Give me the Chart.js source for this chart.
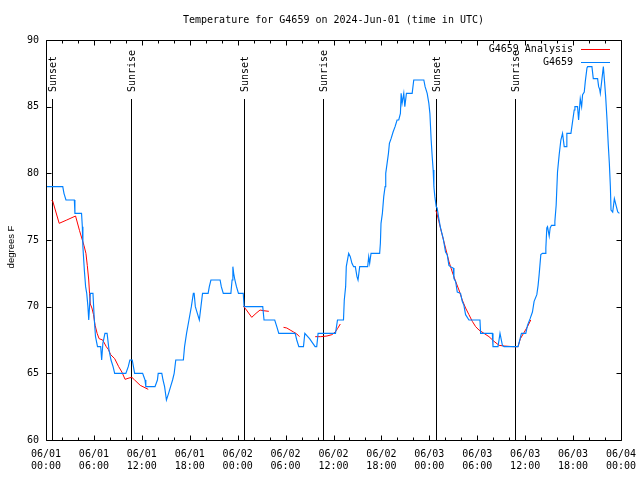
<!DOCTYPE html>
<html>
<head>
<meta charset="utf-8">
<script src="https://cdn.jsdelivr.net/npm/chart.js@4.4.1/dist/chart.umd.min.js"></script>
<style>
  html, body { margin: 0; padding: 0; background: #fff; }
  #c { display: block; }
</style>
</head>
<body>
<canvas id="c" width="640" height="480"></canvas>
<script>
// ---- data (hours since 2024-06-01 00:00 UTC) ----
const titleText = 'Temperature for G4659 on 2024-Jun-01 (time in UTC)';
const yTitle = 'degrees F';
const seriesNames = ['G4659 Analysis', 'G4659'];

const tickLabels = [
  ['06/01','00:00'],['06/01','06:00'],['06/01','12:00'],['06/01','18:00'],
  ['06/02','00:00'],['06/02','06:00'],['06/02','12:00'],['06/02','18:00'],
  ['06/03','00:00'],['06/03','06:00'],['06/03','12:00'],['06/03','18:00'],
  ['06/04','00:00']
];

const sunsetHours = [0.79, 24.83, 48.84];
const sunriseHours = [10.68, 34.72, 58.77];

const blueHours = [
  0,2.1,2.25,2.5,3.55,3.62,4.45,4.55,4.62,4.8,4.96,5.1,5.25,5.35,5.45,5.55,5.88,6.05,6.2,6.45,
  6.85,6.97,7.12,7.38,7.65,7.89,8.14,8.4,8.6,10.0,10.3,10.5,10.8,11.1,12.1,12.4,12.5,13.65,13.95,14.05,
  14.5,14.65,14.85,15.08,15.35,15.6,15.85,16.05,16.25,17.2,17.35,17.6,17.9,18.2,18.45,18.55,18.7,18.95,19.2,19.4,
  19.6,20.3,20.45,20.65,21.8,21.95,22.2,23.15,23.3,23.4,23.5,23.65,23.85,24.1,24.7,24.8,
  27.14,27.3,28.64,28.9,29.15,31.2,31.4,31.66,32.24,32.41,33.0,33.7,33.9,34.07,36.25,36.5,37.25,
  37.35,37.52,37.6,37.9,38.1,38.31,38.52,38.73,38.94,39.07,39.28,40.28,40.41,40.53,40.7,41.78,41.87,41.95,42.12,42.29,
  42.46,42.54,42.71,42.88,43.0,43.21,43.46,43.71,43.96,44.17,44.38,44.47,44.59,44.8,44.93,45.13,45.85,46.05,47.31,47.47,
  47.73,47.94,48.07,48.23,48.36,48.48,48.57,48.69,48.86,
  48.98,49.19,49.4,49.74,50.03,50.24,50.45,50.66,50.99,51.08,51.29,51.5,51.91,52.12,52.33,52.54,52.96,54.34,54.42,55.89,
  55.97,56.6,56.85,57.15,57.36,59.11,59.37,59.53,60.08,60.29,60.62,60.91,61.12,61.46,61.62,61.75,61.96,62.17,62.5,62.59,
  62.71,62.8,63.01,63.13,63.3,63.63,63.72,63.88,64.05,64.26,64.47,64.68,64.89,65.14,65.22,65.73,65.94,66.14,66.23,66.56,
  66.69,66.9,67.07,67.19,67.4,67.53,67.74,67.82,68.36,68.53,69.07,69.2,69.33,69.41,69.58,69.79,69.91,70.08,70.25,70.41,
  70.54,70.67,70.75,70.96,71.17,71.38,71.59,71.8
];
const blueTemps = [
  79,79,78.5,78,78,77,77,76,74.5,72.75,71.5,71,70,69,70,71,71,69,67.75,67,
  67,66,67.25,68,68,66.75,66,65.5,65,65,65.5,66,66,65,65,64.5,64,64,64.5,65,
  65,64.5,64,63,63.5,64,64.5,65,66,66,67,68,69,70,71,71,70,69.5,69,70,
  71,71,71.5,72,72,71.5,71,71,72,73,72.5,72,71.5,71,71,70,
  70,69,69,68.5,68,68,67.5,67,67,68,67.6,67,67,68,68,69,69,
  70.5,71.5,73,74,73.75,73.25,73,73,72.25,72,73,73,73.75,73.25,74,74,74.75,76.25,77,78.25,
  79,80,80.75,81.5,82.25,82.6,83.1,83.5,84,84,84.5,86,85.25,86,85,86,86,87,87,86.5,
  86,85.25,84.5,82.5,81.25,80.25,79,78.25,77.5,
  77.4,76.6,75.9,75.1,74.1,73.9,73.1,73,72.9,72.1,71.9,71.1,71,70.4,70.1,69.4,69,69,68,68,
  67,67,68,67.1,67,67,67.6,68,68,68.6,69.1,69.6,70.4,70.9,71.6,72.4,73.9,74,74,74.4,
  75.9,76,75.3,75.9,76.1,76.1,76.4,77.6,80.1,81.4,82.5,83,82,82,83,83,83.9,84.75,85,85,
  84,85.6,85,85.9,86.1,86.9,87.9,88,88,87.1,87.1,86.5,86.3,86,86.9,88,87.1,85.75,84,82.1,
  80.75,79,77.25,77.1,78.1,77.6,77.1,77
];

// null marks a break in the analysis line
const redHours = [
  0.7,0.85,1.65,2.6,3.7,4.2,4.75,5.0,5.17,5.35,5.45,5.55,5.75,5.95,6.15,6.4,6.65,7.1,7.55,7.8,
  8.1,8.6,9.1,9.5,9.9,10.4,10.75,11.1,11.8,12.8,
  18.0,
  24.7,25.1,25.76,26.3,26.8,27.2,27.9,
  28.8,
  29.74,30.15,30.57,31.0,31.41,31.74,
  32.7,
  33.71,34.4,35.18,35.8,36.22,36.5,36.85,
  42.0,
  48.78,48.9,49.19,49.6,50.03,50.45,50.87,51.29,51.71,52.12,52.54,52.96,53.38,53.8,54.21,54.84,55.47,56.1,56.73,57.36,
  58.5,59.1,59.4,59.8,60.29,60.7
];
const redTemps = [
  78,77.9,76.25,76.5,76.8,75.7,74.6,74,73.1,72,71,70.2,69.9,69.4,68.6,68,67.6,67.5,67,66.8,
  66.4,66.1,65.5,65.1,64.55,64.65,64.7,64.5,64.1,63.8,
  null,
  70.05,69.75,69.2,69.5,69.75,69.7,69.65,
  null,
  68.45,68.4,68.25,68.1,67.95,67.75,
  null,
  67.75,67.75,67.8,67.9,68.1,68.35,68.7,
  null,
  77.2,77.1,76.4,75.4,74.4,73.4,72.6,71.9,71.25,70.5,69.9,69.4,68.9,68.5,68.25,68,67.75,67.4,67.1,67.05,
  67,67,67.6,68,68.5,69
];

// ---- build datasets ----
const bluePoints = blueHours.map((h, i) => ({ x: h, y: blueTemps[i] }));
const redPoints = redHours.map((h, i) => ({ x: h, y: redTemps[i] }));

const MONO = '"DejaVu Sans Mono", "Liberation Mono", monospace';
const SANS = '"Liberation Sans", Arial, sans-serif';

const decor = {
  id: 'decor',
  beforeDatasetsDraw(chart) {
    const { ctx, chartArea: a, scales: { x } } = chart;
    ctx.save();
    ctx.strokeStyle = '#000';
    ctx.lineWidth = 1;
    ctx.fillStyle = '#000';
    ctx.font = '10px ' + MONO;
    const marks = sunsetHours.map(h => [h, 'Sunset']).concat(sunriseHours.map(h => [h, 'Sunrise']));
    for (const [h, label] of marks) {
      const px = Math.round(x.getPixelForValue(h)) + 0.5;
      ctx.beginPath();
      ctx.moveTo(px, a.top + 59);
      ctx.lineTo(px, a.bottom);
      ctx.stroke();
      ctx.save();
      ctx.translate(px + 1, a.top + 52);
      ctx.rotate(-Math.PI / 2);
      ctx.textAlign = 'left';
      ctx.textBaseline = 'middle';
      ctx.fillText(label, 0, 0);
      ctx.restore();
    }
    ctx.restore();
  },
  afterDraw(chart) {
    const { ctx, chartArea: a, scales: { x, y } } = chart;
    ctx.save();
    ctx.strokeStyle = '#000';
    ctx.lineWidth = 1;
    const L = Math.round(a.left) + 0.5, R = Math.round(a.right) + 0.5;
    const T = Math.round(a.top) + 0.5, B = Math.round(a.bottom) + 0.5;
    ctx.beginPath();
    ctx.rect(L, T, R - L, B - T);
    ctx.stroke();
    // x ticks (inward, mirrored)
    ctx.beginPath();
    for (const t of x.ticks) {
      const v = Math.round(t.value);
      const len = (v % 6 === 0) ? 5 : 3;
      const px = Math.round(x.getPixelForValue(v)) + 0.5;
      ctx.moveTo(px, B); ctx.lineTo(px, B - len);
      ctx.moveTo(px, T); ctx.lineTo(px, T + len);
    }
    for (const t of y.ticks) {
      const py = Math.round(y.getPixelForValue(t.value)) + 0.5;
      ctx.moveTo(L, py); ctx.lineTo(L + 5, py);
      ctx.moveTo(R, py); ctx.lineTo(R - 5, py);
    }
    ctx.stroke();

    // legend
    ctx.font = '10px ' + MONO;
    ctx.fillStyle = '#000';
    ctx.textAlign = 'right';
    ctx.textBaseline = 'middle';
    chart.data.datasets.forEach((ds, i) => {
      const ly = Math.round(a.top + 9 + i * 13) + 0.5;
      ctx.fillText(ds.label, a.right - 48, ly);
      ctx.beginPath();
      ctx.strokeStyle = ds.borderColor;
      ctx.lineWidth = 1;
      ctx.moveTo(a.right - 40, ly);
      ctx.lineTo(a.right - 11, ly);
      ctx.stroke();
    });

    // y axis title
    ctx.save();
    ctx.font = '9.5px ' + SANS;
    ctx.fillStyle = '#000';
    ctx.translate(11, (a.top + a.bottom) / 2 + 7);
    ctx.rotate(-Math.PI / 2);
    ctx.textAlign = 'center';
    ctx.textBaseline = 'middle';
    ctx.fillText(yTitle, 0, 0);
    ctx.restore();
    ctx.restore();
  }
};

new Chart(document.getElementById('c'), {
  type: 'scatter',
  data: {
    datasets: [
      { label: seriesNames[0], data: redPoints, showLine: true, borderColor: '#ff0000', backgroundColor: '#ff0000',
        borderWidth: 1, pointRadius: 0, spanGaps: false, tension: 0, order: 2 },
      { label: seriesNames[1], data: bluePoints, showLine: true, borderColor: '#0080ff', backgroundColor: '#0080ff',
        borderWidth: 1.15, pointRadius: 0, tension: 0, order: 1 }
    ]
  },
  options: {
    responsive: false,
    animation: false,
    devicePixelRatio: 1,
    layout: { padding: { left: 0, right: 19, top: 0, bottom: 0 } },
    plugins: {
      legend: { display: false },
      tooltip: { enabled: false },
      title: {
        display: true, text: titleText, color: '#000', fullSize: false,
        font: { family: MONO, size: 10, weight: 'normal', lineHeight: 1.2 },
        padding: { top: 14, bottom: 14 }
      }
    },
    scales: {
      x: {
        type: 'linear', min: 0, max: 72,
        afterFit: s => { s.height = 40; s.paddingLeft = 0; s.paddingRight = 0; },
        grid: { display: false, drawTicks: false },
        border: { display: false },
        ticks: {
          stepSize: 2, autoSkip: false, maxRotation: 0, minRotation: 0, padding: 8, color: '#000',
          font: { family: MONO, size: 10, lineHeight: 1.2 },
          callback: v => { const r = Math.round(v); return r % 6 === 0 ? tickLabels[r / 6] : ''; }
        }
      },
      y: {
        min: 60, max: 90,
        afterFit: s => { s.width = 46; s.paddingTop = 0; s.paddingBottom = 0; },
        grid: { display: false, drawTicks: false },
        border: { display: false },
        ticks: { stepSize: 5, padding: 7, color: '#000', font: { family: MONO, size: 10 } }
      }
    }
  },
  plugins: [decor]
});
</script>
</body>
</html>
